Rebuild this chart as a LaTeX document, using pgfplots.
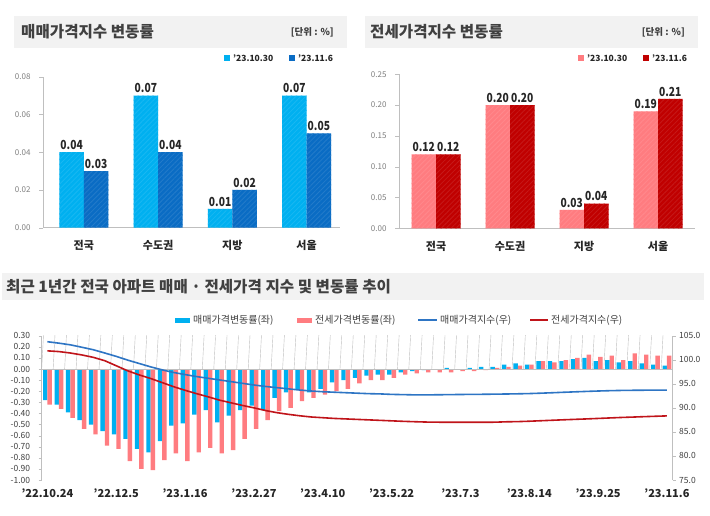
\documentclass[border=0pt]{standalone}
\usepackage{fontspec}
\setmainfont{Noto Sans CJK KR}
\usepackage{graphicx}
\usepackage{pgfplots}
\pgfplotsset{compat=1.18}
\usepackage{pgfplotstable}
\usetikzlibrary{patterns.meta}

\definecolor{cyanbar}{HTML}{00B0F0}
\definecolor{bluebar}{HTML}{0A6CC4}
\definecolor{pinkbar}{HTML}{FF7C80}
\definecolor{redbar}{HTML}{C00000}
\definecolor{lineblue}{HTML}{2E75C4}
\definecolor{linered}{HTML}{C0141A}
\definecolor{band}{HTML}{F2F2F2}
\definecolor{titlegray}{HTML}{404040}
\definecolor{labeldark}{HTML}{262626}
\definecolor{tickgray}{HTML}{7F7F7F}
\definecolor{axgray}{HTML}{BFBFBF}

\pgfplotstableread{
i sale jeonse si ji
0 -0.28 -0.32 103.75 101.85
1 -0.32 -0.36 103.45 101.70
2 -0.39 -0.44 103.10 101.40
3 -0.46 -0.54 102.60 101.00
4 -0.50 -0.59 102.08 100.50
5 -0.56 -0.69 101.40 99.80
6 -0.59 -0.72 100.70 98.75
7 -0.63 -0.83 99.92 97.70
8 -0.72 -0.90 99.22 96.85
9 -0.75 -0.91 98.52 96.10
10 -0.65 -0.82 97.90 95.25
11 -0.51 -0.76 97.35 94.40
12 -0.49 -0.83 96.92 93.65
13 -0.41 -0.75 96.50 92.95
14 -0.37 -0.71 96.15 92.30
15 -0.48 -0.76 95.80 91.60
16 -0.42 -0.73 95.45 91.05
17 -0.37 -0.63 95.10 90.50
18 -0.33 -0.54 94.75 90.00
19 -0.37 -0.46 94.45 89.45
20 -0.26 -0.38 94.20 89.00
21 -0.21 -0.35 93.95 88.65
22 -0.18 -0.29 93.70 88.35
23 -0.21 -0.26 93.50 88.10
24 -0.18 -0.23 93.35 87.95
25 -0.12 -0.20 93.25 87.80
26 -0.10 -0.18 93.15 87.70
27 -0.08 -0.13 93.05 87.60
28 -0.06 -0.10 92.95 87.50
29 -0.05 -0.10 92.90 87.40
30 -0.05 -0.08 92.80 87.30
31 -0.03 -0.05 92.75 87.20
32 -0.02 -0.04 92.70 87.12
33 -0.01 -0.03 92.70 87.05
34 0.00 -0.03 92.72 87.02
35 0.01 -0.03 92.75 87.00
36 0.00 -0.02 92.78 87.00
37 0.01 -0.02 92.80 87.00
38 0.02 -0.01 92.82 87.00
39 0.02 0.01 92.85 87.02
40 0.04 0.02 92.88 87.10
41 0.05 0.03 92.92 87.14
42 0.04 0.04 92.97 87.22
43 0.07 0.07 93.05 87.32
44 0.07 0.06 93.14 87.42
45 0.07 0.08 93.24 87.52
46 0.09 0.10 93.33 87.61
47 0.10 0.13 93.42 87.70
48 0.07 0.11 93.50 87.80
49 0.08 0.12 93.57 87.90
50 0.06 0.08 93.62 88.00
51 0.07 0.14 93.65 88.08
52 0.05 0.13 93.67 88.17
53 0.04 0.12 93.69 88.25
54 0.03 0.12 93.70 88.33
}\weekly

\pgfplotsset{
  topbar/.style={
    scale only axis, anchor=south west,
    ybar=0pt, bar width=24.5pt,
    axis x line*=bottom, axis y line*=left,
    axis line style={axgray},
    xtick={0,1,2,3}, xticklabels={전국,수도권,지방,서울},
    x tick style={draw=none},
    y tick style={axgray},
    ytick align=outside, major tick length=4pt,
    scaled y ticks=false,
    xticklabel style={font=\fontsize{11}{12}\selectfont\bfseries, text=labeldark, yshift=-5pt},
    yticklabel style={font=\fontsize{8}{9}\selectfont, text=tickgray, xshift=-5pt},
    /pgf/number format/fixed, /pgf/number format/fixed zerofill,
    /pgf/number format/precision=2, /pgf/number format/assume math mode=true,
    nodes near coords={\scalebox{0.82}[1]{\pgfmathprintnumber{\pgfplotspointmeta}}},
    every node near coord/.append style={font=\fontsize{12.5}{13}\selectfont\bfseries, text=labeldark, yshift=-1pt},
  },
  hatch/.style={fill=#1, draw=none, postaction={pattern={Lines[angle=45, distance=3.5pt, line width=0.8pt]}, pattern color=#1!90!white}},
}

\begin{document}
\begin{tikzpicture}[x=1pt,y=1pt]
\useasboundingbox (0,0) rectangle (710,-516);
\fill[white] (0,0) rectangle (710,-516);

% ---------- top-left panel ----------
\fill[band] (14,-16) rectangle (347,-48);
\node[anchor=west, font=\fontsize{15.6}{17}\selectfont\bfseries, text=titlegray, inner sep=0] at (21,-32) {매매가격지수 변동률};
\node[anchor=east, font=\fontsize{9.5}{10}\selectfont\bfseries, text=titlegray, inner sep=0] at (334,-32) {[단위 : \%]};
\fill[cyanbar] (224,-55) rectangle (230,-61);
\node[anchor=west, font=\fontsize{8.5}{9}\selectfont\bfseries, text=labeldark, inner sep=0] at (233,-58) {’23.10.30};
\fill[bluebar] (289,-55) rectangle (295,-61);
\node[anchor=west, font=\fontsize{8.5}{9}\selectfont\bfseries, text=labeldark, inner sep=0] at (298,-58) {’23.11.6};

\begin{axis}[topbar, at={(43pt,-227.7pt)}, width=297pt, height=151pt,
  xmin=-0.55, xmax=3.45, ymin=0, ymax=0.08,
  ytick={0,0.02,0.04,0.06,0.08}]
\addplot[hatch=cyanbar] coordinates {(0,0.04) (1,0.07) (2,0.01) (3,0.07)};
\addplot[hatch=bluebar] coordinates {(0,0.03) (1,0.04) (2,0.02) (3,0.05)};
\end{axis}

% ---------- top-right panel ----------
\fill[band] (365,-16) rectangle (698,-48);
\node[anchor=west, font=\fontsize{15.6}{17}\selectfont\bfseries, text=titlegray, inner sep=0] at (370,-32) {전세가격지수 변동률};
\node[anchor=east, font=\fontsize{9.5}{10}\selectfont\bfseries, text=titlegray, inner sep=0] at (685,-32) {[단위 : \%]};
\fill[pinkbar] (578,-55) rectangle (584,-61);
\node[anchor=west, font=\fontsize{8.5}{9}\selectfont\bfseries, text=labeldark, inner sep=0] at (587,-58) {’23.10.30};
\fill[redbar] (643,-55) rectangle (649,-61);
\node[anchor=west, font=\fontsize{8.5}{9}\selectfont\bfseries, text=labeldark, inner sep=0] at (652,-58) {’23.11.6};

\begin{axis}[topbar, at={(399pt,-228.3pt)}, width=296pt, height=154pt,
  xmin=-0.5, xmax=3.5, ymin=0, ymax=0.25,
  ytick={0,0.05,0.10,0.15,0.20,0.25}]
\addplot[hatch=pinkbar] coordinates {(0,0.12) (1,0.20) (2,0.03) (3,0.19)};
\addplot[hatch=redbar] coordinates {(0,0.12) (1,0.20) (2,0.04) (3,0.21)};
\end{axis}

% ---------- bottom panel ----------
\fill[band] (2,-273) rectangle (704,-300);
\node[anchor=west, font=\fontsize{15.6}{17}\selectfont\bfseries, text=titlegray, inner sep=0] at (6,-287) {최근 1년간 전국 아파트 매매 · 전세가격 지수 및 변동률 추이};

\fill[cyanbar] (175,-318) rectangle (190,-322.5);
\node[anchor=west, font=\fontsize{10}{11}\selectfont, text=titlegray, inner sep=0] at (193,-320) {매매가격변동률(좌)};
\fill[pinkbar] (297,-318) rectangle (312,-322.5);
\node[anchor=west, font=\fontsize{10}{11}\selectfont, text=titlegray, inner sep=0] at (315,-320) {전세가격변동률(좌)};
\draw[lineblue, line width=1.6pt] (418,-320) -- (437,-320);
\node[anchor=west, font=\fontsize{10}{11}\selectfont, text=titlegray, inner sep=0] at (440,-320) {매매가격지수(우)};
\draw[linered, line width=1.6pt] (530,-320) -- (548,-320);
\node[anchor=west, font=\fontsize{10}{11}\selectfont, text=titlegray, inner sep=0] at (551,-320) {전세가격지수(우)};

\begin{axis}[scale only axis, anchor=south west, at={(41.7pt,-480pt)},
  width=631pt, height=144.3pt,
  xmin=-0.5, xmax=54.5, ymin=-1, ymax=0.3,
  ybar=0pt, bar width=4.4pt,
  axis x line=none, axis y line*=left,
  axis line style={axgray}, y tick style={axgray},
  ytick align=outside, major tick length=3pt,
  ytick={-1,-0.9,-0.8,-0.7,-0.6,-0.5,-0.4,-0.3,-0.2,-0.1,0,0.1,0.2,0.3},
  yticklabel style={font=\fontsize{8.5}{9}\selectfont, text=titlegray, xshift=-5pt},
  /pgf/number format/fixed, /pgf/number format/fixed zerofill,
  /pgf/number format/precision=2, /pgf/number format/assume math mode=true]
\addplot[fill=cyanbar, draw=none] table[x=i, y=sale] {\weekly};
\addplot[fill=pinkbar, draw=none] table[x=i, y=jeonse] {\weekly};
\draw[axgray] (axis cs:-0.5,0) -- (axis cs:54.5,0);
\pgfplotsinvokeforeach{0,...,55}{\draw[axgray] (axis cs:#1-0.5,0) -- ++(0,-2.5pt);}
\end{axis}

\begin{axis}[scale only axis, anchor=south west, at={(41.7pt,-480pt)},
  width=631pt, height=144.3pt,
  xmin=-0.5, xmax=54.5, ymin=75, ymax=105,
  axis x line*=bottom, axis y line*=right,
  x axis line style={draw=none}, y axis line style={axgray},
  y tick style={axgray}, x tick style={draw=none},
  ytick align=outside, major tick length=3pt,
  ytick={75,80,85,90,95,100,105},
  xtick={0,6,12,18,24,30,36,42,48,54},
  xticklabels={’22.10.24,’22.12.5,’23.1.16,’23.2.27,’23.4.10,’23.5.22,’23.7.3,’23.8.14,’23.9.25,’23.11.6},
  xticklabel style={font=\fontsize{11}{12}\selectfont\bfseries, text=labeldark, yshift=-5pt},
  yticklabel style={font=\fontsize{8.5}{9}\selectfont, text=titlegray},
  /pgf/number format/fixed, /pgf/number format/fixed zerofill,
  /pgf/number format/precision=1, /pgf/number format/assume math mode=true]
\addplot[lineblue, line width=1.6pt, mark=none] table[x=i, y=si] {\weekly};
\addplot[linered, line width=1.6pt, mark=none] table[x=i, y=ji] {\weekly};
\end{axis}
\end{tikzpicture}
\end{document}
